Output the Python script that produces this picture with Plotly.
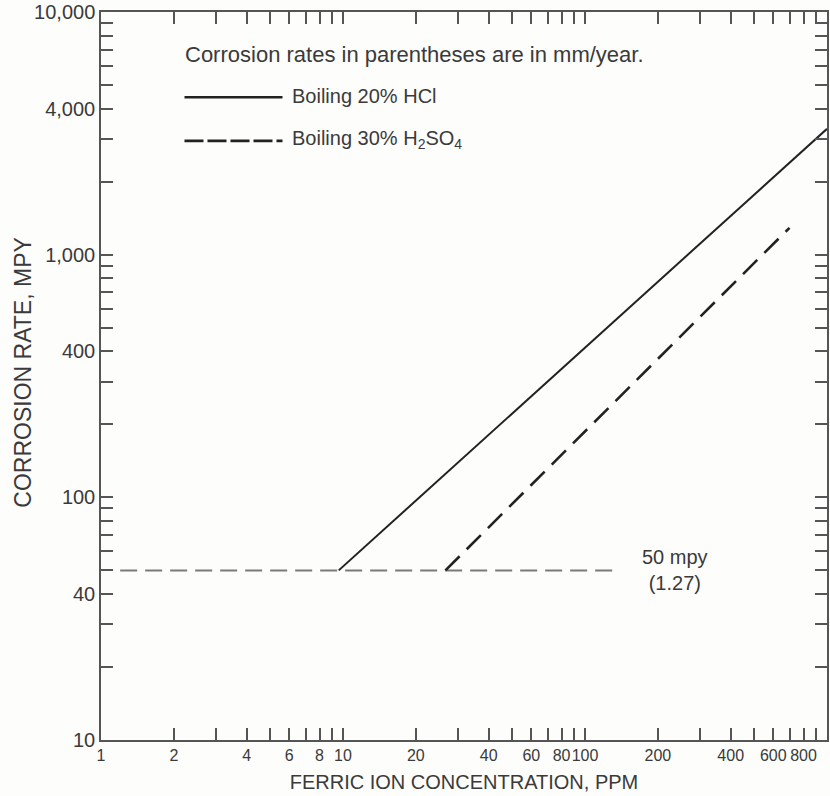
import plotly.graph_objects as go
import math

# ---- data ----
hcl_x = [9.6, 1000]
hcl_y = [50, 3300]
h2so4_x = [26.5, 700]
h2so4_y = [50, 1290]
ref_x = [1.2, 130]
ref_y = [50, 50]

x_labeled = [1, 2, 4, 6, 8, 10, 20, 40, 60, 80, 100, 200, 400, 600, 800]
y_labeled = [10, 40, 100, 400, 1000, 4000, 10000]
y_label_text = ["10", "40", "100", "400", "1,000", "4,000", "10,000"]

x_minor = [m * 10 ** d for d in range(0, 3) for m in range(1, 10) if m * 10 ** d not in x_labeled] + [1000]
y_minor = [m * 10 ** d for d in range(1, 4) for m in range(1, 10) if m * 10 ** d not in y_labeled]

FONT = "Liberation Sans, Arial, sans-serif"
TXT = "#3a3a3a"

fig = go.Figure()
fig.add_trace(go.Scatter(x=ref_x, y=ref_y, mode="lines",
                         line=dict(color="#7a7a7a", width=2, dash="17px,8px"), showlegend=False))
fig.add_trace(go.Scatter(x=hcl_x, y=hcl_y, mode="lines",
                         line=dict(color="#222222", width=2), showlegend=False))
fig.add_trace(go.Scatter(x=h2so4_x, y=h2so4_y, mode="lines",
                         line=dict(color="#222222", width=2.6, dash="20px,10px"), showlegend=False))

# legend-like key
fig.add_shape(type="line", xref="paper", yref="paper", x0=0.115, x1=0.25, y0=0.883, y1=0.883,
              line=dict(color="#222222", width=2.4))
fig.add_shape(type="line", xref="paper", yref="paper", x0=0.115, x1=0.25, y0=0.823, y1=0.823,
              line=dict(color="#222222", width=2.6, dash="19px,4px"))
fig.add_annotation(xref="paper", yref="paper", x=0.113, y=0.942, xanchor="left", yanchor="middle",
                   text="Corrosion rates in parentheses are in mm/year.", showarrow=False,
                   font=dict(family=FONT, size=22, color=TXT))
fig.add_annotation(xref="paper", yref="paper", x=0.261, y=0.885, xanchor="left", yanchor="middle",
                   text="Boiling 20% HCl", showarrow=False,
                   font=dict(family=FONT, size=20, color=TXT))
fig.add_annotation(xref="paper", yref="paper", x=0.261, y=0.825, xanchor="left", yanchor="middle",
                   text="Boiling 30% H<sub>2</sub>SO<sub>4</sub>", showarrow=False,
                   font=dict(family=FONT, size=20, color=TXT))
fig.add_annotation(x=math.log10(235), y=math.log10(50), xanchor="center", yanchor="middle",
                   text="50 mpy<br>(1.27)", showarrow=False,
                   font=dict(family=FONT, size=20, color=TXT))
# y-axis title
fig.add_annotation(xref="paper", yref="paper", x=-0.107, y=0.505, xanchor="center", yanchor="middle",
                   text="CORROSION RATE, MPY", textangle=-90, showarrow=False,
                   font=dict(family=FONT, size=23, color=TXT))

axis_common = dict(type="log", showgrid=False, zeroline=False, showline=True,
                   linecolor="#555555", linewidth=1.5, mirror="allticks",
                   ticks="inside", ticklen=12, tickwidth=1.5, tickcolor="#555555")

fig.update_xaxes(range=[0, 3], tickmode="array", tickvals=x_labeled, ticktext=[str(v) for v in x_labeled],
                 tickangle=0, tickfont=dict(family=FONT, size=16, color=TXT),
                 minor=dict(tickmode="array", tickvals=x_minor, ticks="inside", ticklen=12,
                            tickwidth=1.5, tickcolor="#555555", showgrid=False),
                 title=dict(text="FERRIC ION CONCENTRATION, PPM", standoff=12,
                            font=dict(family=FONT, size=20, color=TXT)),
                 **axis_common)
fig.update_yaxes(range=[1, 4], tickmode="array", tickvals=y_labeled, ticktext=y_label_text,
                 tickfont=dict(family=FONT, size=20, color=TXT),
                 minor=dict(tickmode="array", tickvals=y_minor, ticks="inside", ticklen=12,
                            tickwidth=1.5, tickcolor="#555555", showgrid=False),
                 **axis_common)

fig.update_layout(width=830, height=796, margin=dict(l=101, r=1, t=12, b=56),
                  paper_bgcolor="#fdfdfb", plot_bgcolor="#fdfdfb", showlegend=False)

fig.write_html("out.html")
